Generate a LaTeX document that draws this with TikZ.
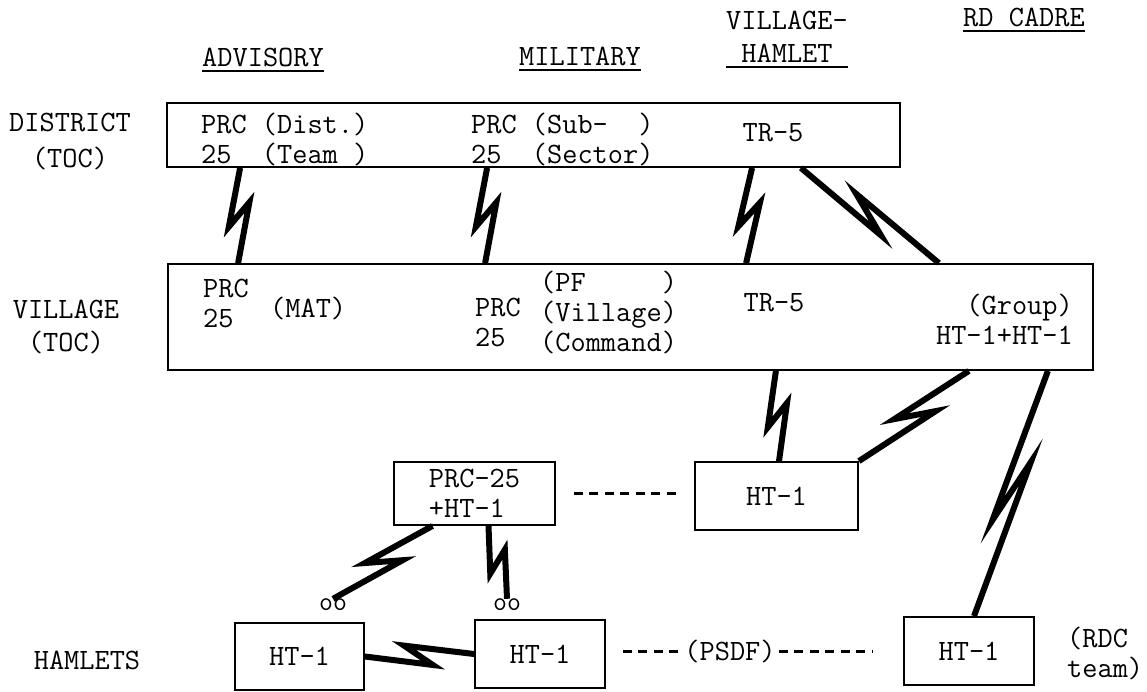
\documentclass[tikz,border=0pt]{standalone}
\usepackage{tikz}
\usetikzlibrary{calc,positioning}

\begin{document}
\begin{tikzpicture}[x=1pt,y=-1pt,
 every node/.style={font=\fontsize{29.5}{30}\selectfont\ttfamily, inner sep=0pt},
 colhead/.style={anchor=base, text height=18pt, text depth=0pt},
 panel/.style={draw, line width=1.8pt},
 bolt/.style={line width=6pt, to path={-- ($(\tikztostart)!0.62!(\tikztotarget)!10pt!-90:(\tikztotarget)$) -- ($(\tikztostart)!0.36!(\tikztotarget)!10pt!90:(\tikztotarget)$) -- (\tikztotarget)}},
 typedash/.style={line width=3pt, dash pattern=on 9pt off 6.5pt}]
 \useasboundingbox (0,0) rectangle (1147,691);

 \node[colhead] (adv) at (263,66) {ADVISORY};
 \node[colhead] (mil) at (580,65) {MILITARY};
 \node[colhead] (vh1) at (787,29) {VILLAGE-};
 \node[colhead] (vh2) at (787,62) {HAMLET};
 \node[colhead] (rd) at (1024,26) {RD CADRE};
 \foreach \n in {adv,mil,rd} \draw[line width=1.5pt] ([yshift=-5pt]\n.south west) -- ([yshift=-5pt]\n.south east);
 \draw[line width=1.5pt] ([yshift=-5pt]vh2.south -| vh1.west) -- ([yshift=-5pt]vh2.south -| vh1.east);

 \node[align=center] (dlab) at (70,142) {DISTRICT\\[6pt](TOC)};
 \node[align=center] (vlab) at (66,327) {VILLAGE\\[3pt](TOC)};
 \node (hlab) at (87,660) {HAMLETS};

 \node[panel, minimum width=733pt, minimum height=64pt] (dist) at (533.5,135) {};
 \node[panel, minimum width=925pt, minimum height=106pt] (vill) at (630.5,317) {};
 \node[panel, align=left, minimum width=161pt, minimum height=63pt] (prc) at (474.5,493.5) {PRC-25\\+HT-1};
 \node[panel, minimum width=163pt, minimum height=68pt] (vht) at (776.5,496) {HT-1};
 \node[panel, minimum width=129pt, minimum height=67pt] (h1) at (299.5,656.5) {HT-1};
 \node[panel, minimum width=130pt, minimum height=68pt] (h2) at (540,654) {HT-1};
 \node[panel, minimum width=130pt, minimum height=68pt] (h3) at (969,651) {HT-1};

 \node[anchor=west, align=left] (dadv) at (201,139) {PRC (Dist.)\\25\ \ (Team\ )};
 \node[anchor=west, align=left] (dmil) at (471,139) {PRC (Sub-\ \ )\\25\ \ (Sector)};
 \node (dtr) at (773,133) {TR-5};

 \node[anchor=west, align=left] (vadv) at (203,303) {PRC\\25};
 \node[anchor=west] (vmat) at (270,308) {(MAT)};
 \node[anchor=west, align=left] (vmil) at (475,322) {PRC\\25};
 \node[anchor=west, align=left] (vpf) at (540,312) {(PF\ \ \ \ \ )\\(Village)\\(Command)};
 \node (vtr) at (774,303) {TR-5};
 \node[anchor=east, align=right] (vgrp) at (1073,319) {(Group)\\HT-1+HT-1};

 \node[font=\fontsize{27}{27}\selectfont\ttfamily] (oo1) at (333,605) {oo};
 \node[font=\fontsize{27}{27}\selectfont\ttfamily] (oo2) at (507,605) {oo};
 \node (psdf) at (730,651) {(PSDF)};
 \node[anchor=west, align=left] (rdc) at (1067,653) {(RDC\\team)};

 \draw[bolt] ([xshift=74pt]dist.south west) to ([xshift=71pt]vill.north west);
 \draw[bolt] ([xshift=321pt]dist.south west) to ([xshift=318pt]vill.north west);
 \draw[bolt] ([xshift=586pt]dist.south west) to ([xshift=579pt]vill.north west);
 \draw[bolt] ([xshift=-100pt]dist.south east) to ([xshift=-155pt]vill.north east);
 \draw[bolt] ([xshift=-318pt]vill.south east) to ([xshift=2.5pt]vht.north);
 \draw[bolt] ([xshift=-125pt]vill.south east) to (vht.north east);
 \draw[bolt] ([xshift=-46pt]vill.south east) to ([xshift=5pt]h3.north);
 \draw[bolt] ([xshift=-42pt]prc.south) to (oo1.north);
 \draw[bolt] ([xshift=14pt]prc.south) to (oo2.north);
 \draw[bolt] (h1.east) to (h2.west);

 \draw[typedash, shorten <=18pt, shorten >=15pt] (prc.east) -- (prc.east -| vht.west);
 \draw[typedash, shorten <=17pt, shorten >=3pt] (h2.east |- psdf) -- (psdf.west);
 \draw[typedash, shorten <=3pt, shorten >=31pt] (psdf.east) -- (psdf -| h3.west);
\end{tikzpicture}
\end{document}
